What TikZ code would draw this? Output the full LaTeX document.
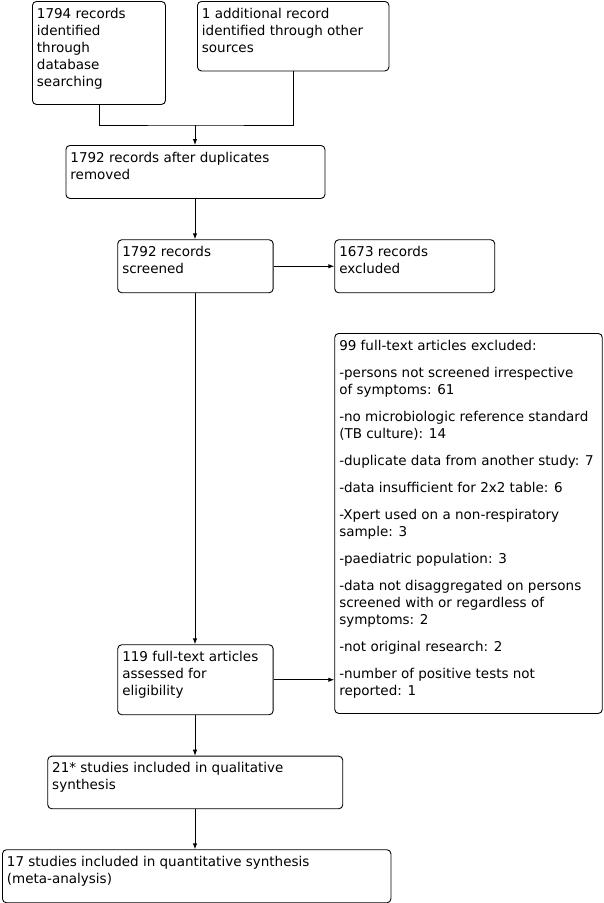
\documentclass[tikz,border=0pt]{standalone}
\usepackage{fontspec}
\setmainfont{DejaVu Sans}
\usetikzlibrary{arrows.meta}
\newcommand\bx[3]{\parbox[b][#2][t]{#1}{\raggedright\leftskip=4.5pt\rule{0pt}{16.8pt}#3}}
\begin{document}
\begin{tikzpicture}[x=1pt,y=-1pt,
  box/.style={draw,line width=0.9pt,rounded corners=4pt,inner sep=0pt,anchor=north west,
    font=\fontsize{13.5}{17}\selectfont},
  conn/.style={line width=0.9pt},
  arr/.style={conn,-{Latex[length=6pt,width=4.5pt]}}]
\useasboundingbox (0,0) rectangle (603,903);
\node[box] (a) at (32,1) {\bx{133pt}{103pt}{1794 records\\identified\\through\\database\\searching}};
\node[box] (b) at (197,1) {\bx{191.5pt}{69.5pt}{1 additional record\\identified through other\\sources}};
\node[box] (c) at (65.5,145) {\bx{259pt}{53pt}{1792 records after duplicates\\removed}};
\node[box] (d) at (117.3,239.3) {\bx{155.4pt}{53pt}{1792 records\\screened}};
\node[box] (e) at (334.3,239.3) {\bx{160pt}{53pt}{1673 records\\excluded}};
\node[box] (g) at (334.3,333) {\bx{267.5pt}{380pt}{\parskip=10pt 99 full-text articles excluded:\par
-persons not screened irrespective\\of symptoms: 61\par
-no microbiologic reference standard\\(TB culture): 14\par
-duplicate data from another study: 7\par
-data insufficient for 2x2 table: 6\par
-Xpert used on a non-respiratory\\sample: 3\par
-paediatric population: 3\par
-data not disaggregated on persons\\screened with or regardless of\\symptoms: 2\par
-not original research: 2\par
-number of positive tests not\\reported: 1}};
\node[box] (f) at (117.3,644.3) {\bx{155.4pt}{70pt}{119 full-text articles\\assessed for\\eligibility}};
\node[box] (h) at (47.3,755.7) {\bx{295pt}{52.6pt}{21* studies included in qualitative\\synthesis}};
\node[box] (i) at (2,849.3) {\bx{388.5pt}{53pt}{17 studies included in quantitative synthesis\\(meta-analysis)}};
\coordinate (j) at (195,125);
\draw[conn] (a.south) |- (j) -| (b.south);
\draw[arr] (j) -- (c.north -| j);
\draw[arr] (c.south -| j) -- (d.north -| j);
\draw[arr] (d.east) -- (e.west);
\draw[arr] (d.south -| j) -- (f.north -| j);
\draw[arr] (f.east) -- (f.east -| g.west);
\draw[arr] (f.south -| j) -- (h.north -| j);
\draw[arr] (h.south -| j) -- (i.north -| j);
\end{tikzpicture}
\end{document}
